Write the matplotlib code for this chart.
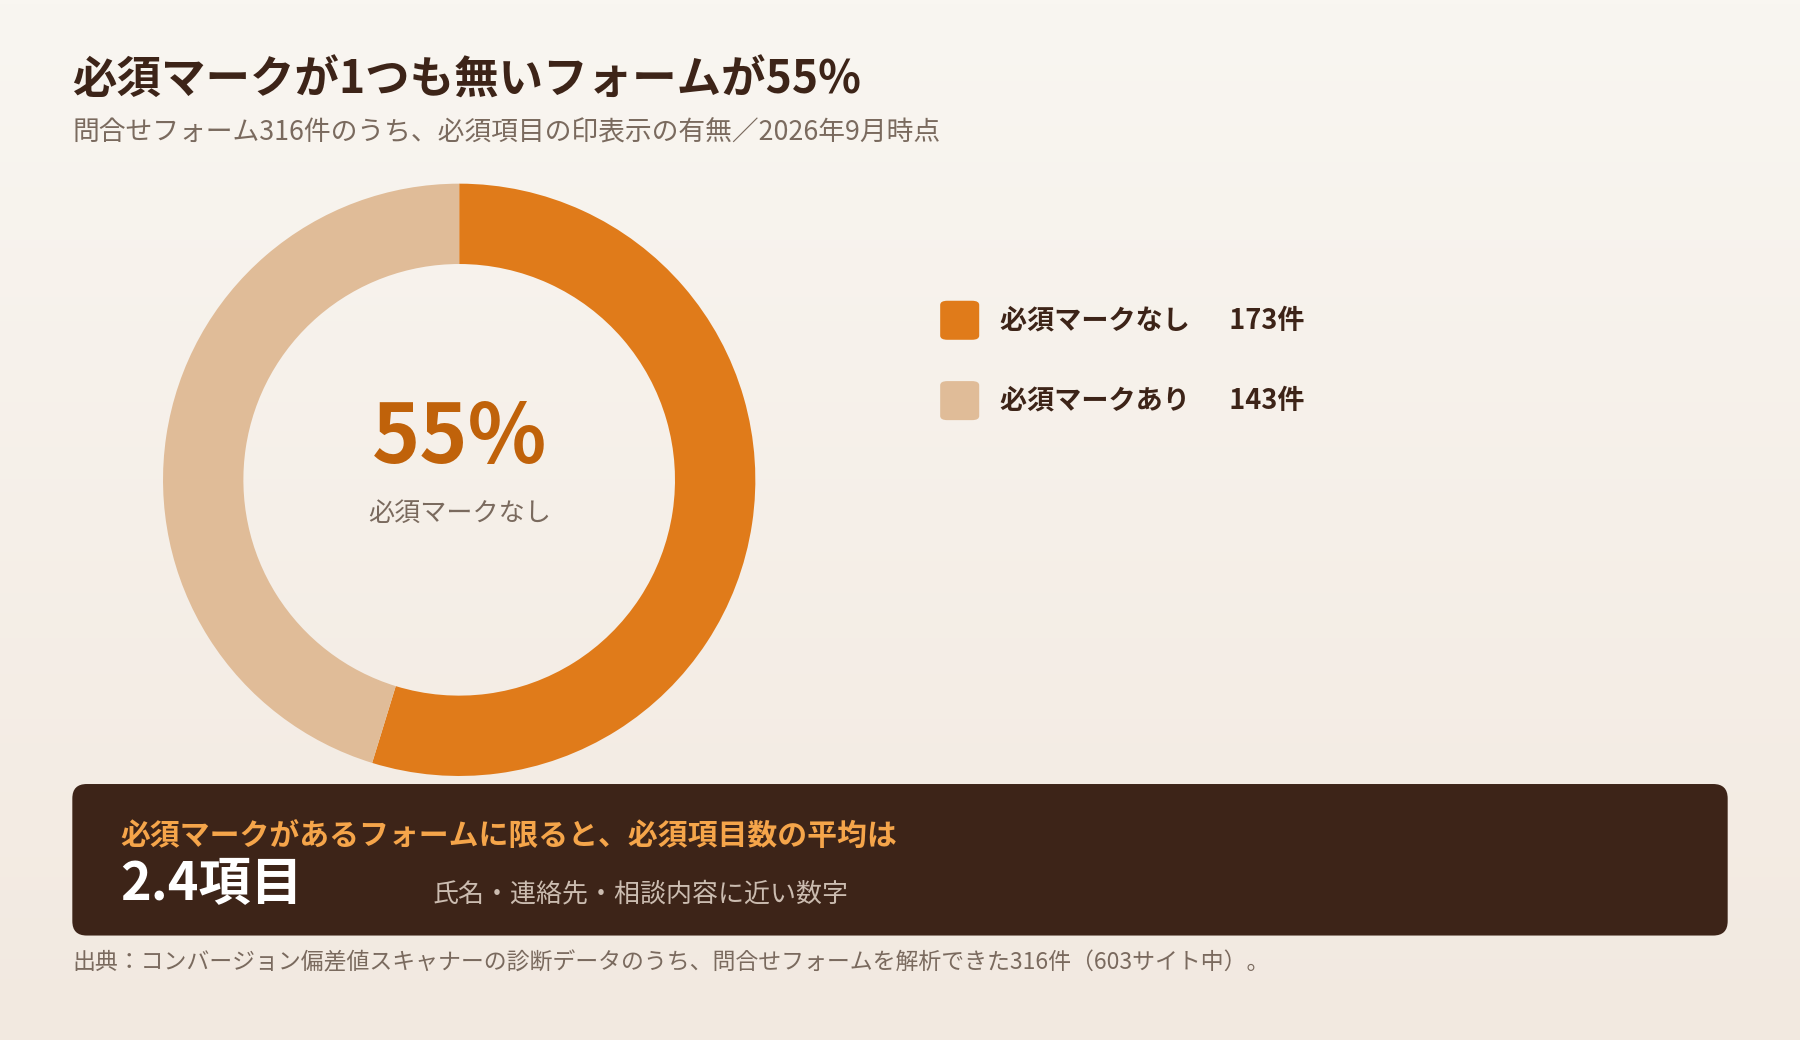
import matplotlib
matplotlib.use("Agg")
import matplotlib.pyplot as plt
import numpy as np
from matplotlib.patches import FancyBboxPatch

plt.rcParams['font.family'] = ['Noto Sans CJK JP', 'DejaVu Sans']

labels = ["必須マークなし", "必須マークあり"]
counts = [173, 143]
colors = ["#E07B1A", "#E0BC98"]
title = "必須マークが1つも無いフォームが55%"
subtitle = "問合せフォーム316件のうち、必須項目の印表示の有無／2026年9月時点"
avg_label = "必須マークがあるフォームに限ると、必須項目数の平均は"
avg_value = "2.4項目"
avg_note = "氏名・連絡先・相談内容に近い数字"
source = "出典：コンバージョン偏差値スキャナーの診断データのうち、問合せフォームを解析できた316件（603サイト中）。"

W, H = 1568, 906
fig = plt.figure(figsize=(18, 10.4), dpi=100)
bg = fig.add_axes([0, 0, 1, 1])
grad = np.linspace(0, 1, 256).reshape(-1, 1)
top = np.array([0xf9, 0xf6, 0xf1]) / 255
bot = np.array([0xf2, 0xe9, 0xe0]) / 255
img = top + (bot - top) * grad[..., None]
bg.imshow(img, aspect='auto', extent=[0, 1, 0, 1])
bg.set_xlim(0, 1); bg.set_ylim(0, 1); bg.axis('off')

def fx(x): return x / W
def fy(y): return 1 - y / H

fig.text(fx(63), fy(70), title, fontsize=32, fontweight='bold', color="#3d2418", va='center')
fig.text(fx(63), fy(116), subtitle, fontsize=19.3, color="#7a6a5e", va='center')

ax = fig.add_axes([fx(142), fy(676), 516 / W, 516 / H])
ax.pie(counts, colors=colors, startangle=90, counterclock=False,
       wedgeprops=dict(width=70 / 258, edgecolor='none'))
ax.set_xlim(-1, 1); ax.set_ylim(-1, 1)
ax.set_aspect('equal')
total = sum(counts)
pct = round(counts[0] / total * 100)
fig.text(fx(400), fy(383), f"{pct}%", fontsize=59, fontweight='bold', color="#C0620A", ha='center', va='center')
fig.text(fx(400), fy(447), labels[0], fontsize=18.8, color="#7a6a5e", ha='center', va='center')

for i, (lab, c, col) in enumerate(zip(labels, counts, colors)):
    yc = 279 + 70 * i
    bg.add_patch(FancyBboxPatch((fx(819), fy(yc + 17)), 34 / W, 34 / H,
                                boxstyle="round,pad=0,rounding_size=0.004",
                                facecolor=col, edgecolor='none', transform=bg.transAxes))
    fig.text(fx(871), fy(yc), f"{lab}　  {c}件", fontsize=19.5, fontweight='bold', color="#3d2418", va='center')

bg.add_patch(FancyBboxPatch((fx(63), fy(815)), (1505 - 63) / W, 132 / H,
                            boxstyle="round,pad=0,rounding_size=0.008",
                            facecolor="#3d2418", edgecolor='none', transform=bg.transAxes,
                            mutation_aspect=W / H))
fig.text(fx(105), fy(729), avg_label, fontsize=21.5, fontweight='bold', color="#F5A54A", va='center')
fig.text(fx(105), fy(771), avg_value, fontsize=37.5, fontweight='bold', color="white", va='center')
fig.text(fx(377), fy(779), avg_note, fontsize=18.7, color="#cbbcb0", va='center')
fig.text(fx(63), fy(839), source, fontsize=16.5, color="#7a6a5e", va='center')

fig.savefig("out.png", dpi=100)
